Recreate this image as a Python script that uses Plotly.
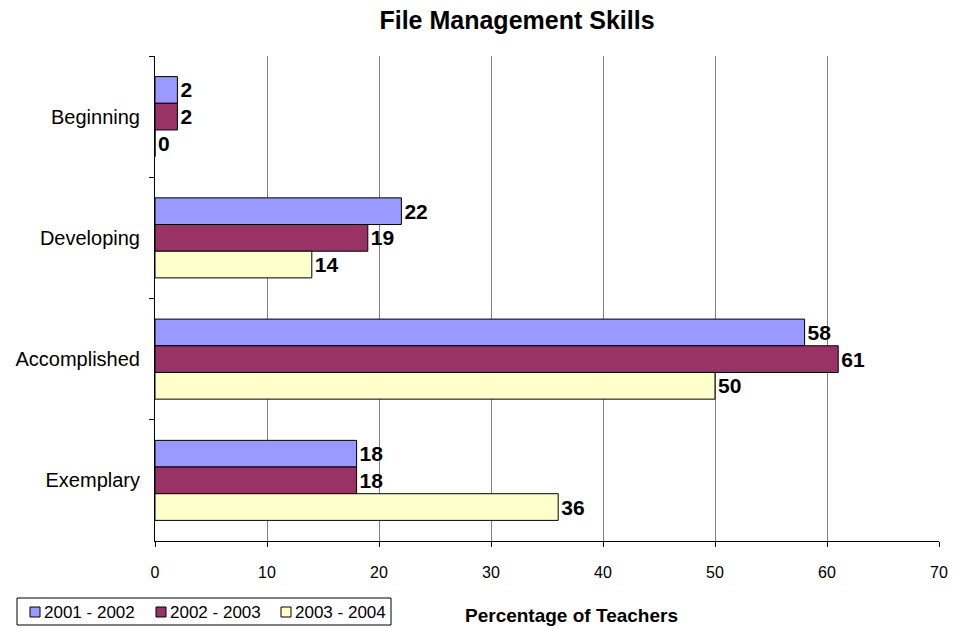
import plotly.graph_objects as go

categories = ["Beginning", "Developing", "Accomplished", "Exemplary"]
series_names = ["2001 - 2002", "2002 - 2003", "2003 - 2004"]
values_2001 = [2, 22, 58, 18]
values_2002 = [2, 19, 61, 18]
values_2003 = [0, 14, 50, 36]
colors = ["#9999FF", "#993366", "#FFFFCC"]
x_ticks = [0, 10, 20, 30, 40, 50, 60, 70]

W, H = 958, 628
L, R, T, B = 155, 19, 56, 87
PW, PH = W - L - R, H - T - B


def px_x(x):
    return (x - L) / PW


def px_y(y):
    return (H - B - y) / PH


fig = go.Figure()
for name, vals, col in zip(series_names, [values_2001, values_2002, values_2003], colors):
    fig.add_trace(go.Bar(
        y=categories, x=vals, name=name, orientation="h",
        marker=dict(color=col, line=dict(color="black", width=1)),
        text=[str(v) for v in vals], textposition="outside",
        textfont=dict(family="Arial", size=21, color="black", weight="bold"),
        cliponaxis=False, showlegend=False,
    ))

# boxed key below the plot, laid out left to right
shapes = [dict(type="rect", xref="paper", yref="paper",
               x0=px_x(17), x1=px_x(391), y0=px_y(598), y1=px_y(625),
               line=dict(color="black", width=1), fillcolor="white", layer="above")]
annotations = []
key_x = [30, 156, 281]
for kx, name, col in zip(key_x, series_names, colors):
    shapes.append(dict(type="rect", xref="paper", yref="paper",
                       x0=px_x(kx), x1=px_x(kx + 10), y0=px_y(607), y1=px_y(617),
                       line=dict(color="black", width=1), fillcolor=col, layer="above"))
    annotations.append(dict(text=name, xref="paper", yref="paper",
                            x=px_x(kx + 12), y=px_y(612), xanchor="left", yanchor="middle",
                            showarrow=False,
                            font=dict(family="Arial", size=17, color="black")))

annotations.append(dict(text="<b>Percentage of Teachers</b>", xref="paper", yref="paper",
                        x=px_x(571), y=px_y(615), xanchor="center", yanchor="middle",
                        showarrow=False,
                        font=dict(family="Arial", size=19, color="black")))

fig.update_layout(
    width=W, height=H,
    margin=dict(l=L, r=R, t=T, b=B, autoexpand=False),
    paper_bgcolor="white", plot_bgcolor="white",
    barmode="group", bargap=0.34, bargroupgap=0,
    font=dict(family="Arial", size=16, color="black"),
    title=dict(text="<b>File Management Skills</b>", x=517 / W, xanchor="center",
               y=1 - 20 / H, yanchor="middle",
               font=dict(family="Arial", size=25, color="black")),
    xaxis=dict(range=[0, 70], tickvals=x_ticks, showgrid=True, gridcolor="#808080",
               gridwidth=1, showline=True, linecolor="black", linewidth=1,
               ticks="outside", ticklen=5, tickcolor="black", zeroline=False,
               tickfont=dict(family="Arial", size=16), ticklabelstandoff=12,
               automargin=False),
    yaxis=dict(autorange="reversed", showline=True, linecolor="black", linewidth=1,
               ticks="outside", ticklen=5, tickcolor="black", tickson="boundaries",
               tickfont=dict(family="Arial", size=20), ticklabelstandoff=10,
               automargin=False),
    shapes=shapes,
    annotations=annotations,
)

fig.write_html("out.html")
